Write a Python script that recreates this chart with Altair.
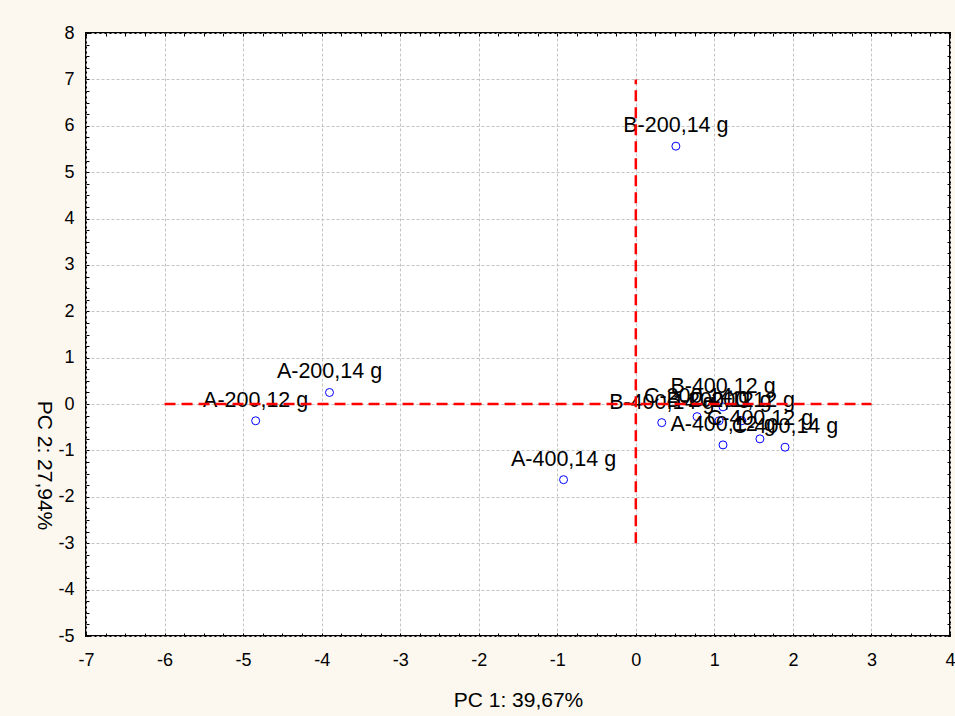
import altair as alt
import pandas as pd

# ---- data ----
labels = ["A-200,12 g", "A-200,14 g", "A-400,12 g", "A-400,14 g",
          "B-200,12 g", "B-200,14 g", "B-400,12 g", "B-400,14 g",
          "C-200,12 g", "C-200,14 g", "C-400,12 g", "C-400,14 g"]
pc1 = [-4.84, -3.90, 1.11, -0.92, 1.06, 0.51, 1.11, 0.33, 1.35, 0.78, 1.58, 1.90]
pc2 = [-0.36, 0.25, -0.88, -1.63, -0.36, 5.56, -0.06, -0.40, -0.36, -0.27, -0.75, -0.93]

# red reference lines
hline_x = [-6, 3]
hline_y = [0]
vline_x = [0]
vline_y = [-3, 7]

x_domain = [-7, 4]
y_domain = [-5, 8]
x_major = list(range(-7, 5))
y_major = list(range(-5, 9))
x_minor = [i / 4 for i in range(-28, 17)]
y_minor = [i / 4 for i in range(-20, 33)]

FONT = "Liberation Sans"

df = pd.DataFrame({"label": labels, "pc1": pc1, "pc2": pc2})
df_h = pd.DataFrame({"x": [hline_x[0]], "x2": [hline_x[1]], "y": hline_y})
df_v = pd.DataFrame({"x": vline_x, "y": [vline_y[0]], "y2": [vline_y[1]]})

xs = alt.Scale(domain=x_domain, nice=False, zero=False)
ys = alt.Scale(domain=y_domain, nice=False, zero=False)

main_x_axis = alt.Axis(values=x_major, grid=True, gridColor="#c4c4c4", gridDash=[3, 2],
                       gridWidth=1, ticks=False, tickSize=0, domain=False,
                       labelFont=FONT, labelFontSize=18, labelColor="black",
                       labelBaseline="alphabetic", labelPadding=29,
                       labelFlush=False, labelOverlap=False,
                       labelExpr="'' + datum.value",
                       title="PC  1: 39,67%", titleFont=FONT, titleFontSize=21,
                       titleFontWeight="normal", titleColor="black",
                       titleX=432, titleY=70, titleBaseline="alphabetic", titleAlign="center")
main_y_axis = alt.Axis(values=y_major, grid=True, gridColor="#c4c4c4", gridDash=[3, 2],
                       gridWidth=1, ticks=False, tickSize=0, domain=False,
                       labelFont=FONT, labelFontSize=18, labelColor="black",
                       labelPadding=12, labelFlush=False, labelOverlap=False,
                       labelExpr="'' + datum.value",
                       title="PC  2: 27,94%", titleFont=FONT, titleFontSize=21,
                       titleFontWeight="normal", titleColor="black",
                       titleAngle=90, titleX=-43, titleY=432,
                       titleBaseline="middle", titleAlign="center")


def tick_axis(orient, values):
    return alt.Axis(orient=orient, values=values, offset=-3, tickSize=3, tickColor="black",
                    tickWidth=1, labels=False, domain=False, grid=False, title=None)


points = alt.Chart(df).mark_point(shape="circle", filled=False, color="#0000ff",
                                  size=64, strokeWidth=1, opacity=1).encode(
    x=alt.X("pc1:Q", scale=xs, axis=main_x_axis),
    y=alt.Y("pc2:Q", scale=ys, axis=main_y_axis),
)

texts = alt.Chart(df).mark_text(align="center", baseline="alphabetic", dy=-14,
                                font=FONT, fontSize=21.5, color="black").encode(
    x=alt.X("pc1:Q", scale=xs, axis=tick_axis("top", x_minor)),
    y=alt.Y("pc2:Q", scale=ys, axis=tick_axis("right", y_minor)),
    text="label:N",
)

hline = alt.Chart(df_h).mark_rule(color="#ff0000", strokeWidth=2.5, strokeDash=[11, 6]).encode(
    x=alt.X("x:Q", scale=xs, axis=tick_axis("bottom", x_minor)),
    x2="x2:Q",
    y=alt.Y("y:Q", scale=ys, axis=tick_axis("left", y_minor)),
)

vline = alt.Chart(df_v).mark_rule(color="#ff0000", strokeWidth=2.5, strokeDash=[11, 6]).encode(
    x=alt.X("x:Q", scale=xs, axis=None),
    y=alt.Y("y:Q", scale=ys, axis=None),
    y2="y2:Q",
)

chart = alt.layer(points, texts, hline, vline).resolve_axis(
    x="independent", y="independent"
).properties(
    width=864, height=603,
    autosize=alt.AutoSizeParams(type="none"),
    padding={"left": 86, "top": 33, "right": 5, "bottom": 80},
    background="#fdf8ef",
).configure_view(stroke="black", strokeWidth=2, fill="white")

chart.save("out.html", embed_options={"renderer": "svg", "actions": False})
